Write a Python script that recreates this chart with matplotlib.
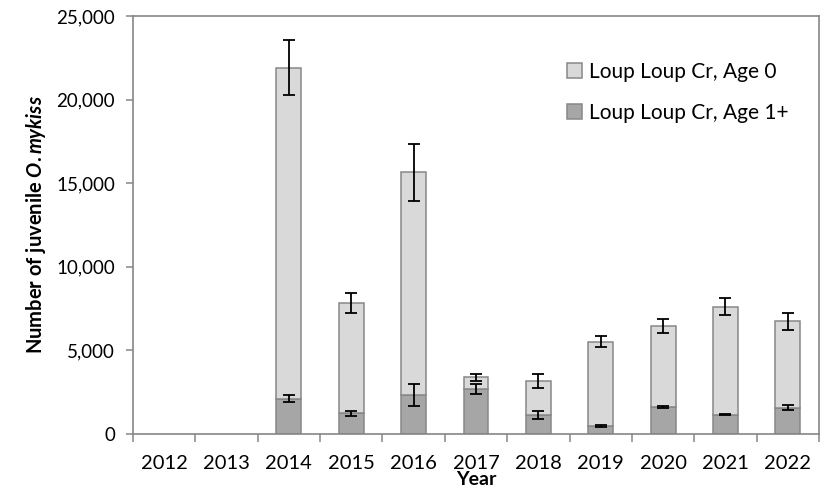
import numpy as np
import matplotlib
matplotlib.use("Agg")
import matplotlib.pyplot as plt
from matplotlib.ticker import FuncFormatter, FixedLocator

years = ["2012", "2013", "2014", "2015", "2016", "2017", "2018", "2019", "2020", "2021", "2022"]
age1 = [np.nan, np.nan, 2100, 1250, 2350, 2680, 1140, 480, 1620, 1160, 1580]
age1_err = [np.nan, np.nan, 210, 150, 670, 300, 220, 80, 50, 40, 130]
age0 = [np.nan, np.nan, 19800, 6600, 13300, 700, 2040, 5050, 4850, 6450, 5150]
total_err = [np.nan, np.nan, 1650, 600, 1700, 200, 400, 350, 400, 500, 480]

plt.rcParams['font.family'] = ['Lato', 'DejaVu Sans']
plt.rcParams['mathtext.fontset'] = 'custom'
plt.rcParams['mathtext.it'] = 'Lato:bold:italic'
plt.rcParams['mathtext.rm'] = 'Lato:bold'

fig = plt.figure(figsize=(8.22, 4.93), dpi=100)
ax = fig.add_axes([133/822, 1-434/493, (819-133)/822, (434-16)/493])

x = np.arange(len(years))
a1 = np.array(age1, dtype=float)
a0 = np.array(age0, dtype=float)
edge = '#878787'
w = 0.4
ax.bar(x, a1, width=w, color='#a6a6a6', edgecolor=edge, linewidth=1.1, label='Loup Loup Cr, Age 1+', zorder=2)
ax.bar(x, a0, width=w, bottom=a1, color='#d9d9d9', edgecolor=edge, linewidth=1.1, label='Loup Loup Cr, Age 0', zorder=2)

ax.errorbar(x, a1 + a0, yerr=np.array(total_err, dtype=float), fmt='none', ecolor='black',
            elinewidth=1.3, capsize=4, capthick=1.3, zorder=4)
ax.errorbar(x, a1, yerr=np.array(age1_err, dtype=float), fmt='none', ecolor='black',
            elinewidth=1.3, capsize=4, capthick=1.3, zorder=4)

ax.set_xlim(-0.5, len(years) - 0.5)
ax.set_ylim(0, 25000)
ax.set_yticks(np.arange(0, 25001, 5000))
ax.yaxis.set_major_formatter(FuncFormatter(lambda v, p: f"{int(v):,}"))
ax.set_xticks(x)
ax.set_xticklabels(years)
ax.xaxis.set_minor_locator(FixedLocator(np.arange(-0.5, len(years), 1.0)))
ax.tick_params(axis='x', which='major', length=0, pad=15, labelsize=14.5)
ax.tick_params(axis='x', which='minor', length=6, width=1.1, color='#868686', direction='out')
ax.tick_params(axis='y', which='major', length=5, width=1.1, color='#868686', direction='out',
               labelsize=13.5, pad=8)

for s in ax.spines.values():
    s.set_color('#868686')
    s.set_linewidth(1.2)

ax.set_ylabel(r"Number of juvenile $\it{O.mykiss}$", fontsize=14.5, fontweight='bold', labelpad=6)
ax.set_xlabel("Year", fontsize=14, fontweight='bold', labelpad=-0.5)

handles, labels = ax.get_legend_handles_labels()
ax.legend(handles[::-1], labels[::-1], loc='upper left', bbox_to_anchor=(0.633, 0.89), frameon=False,
          borderaxespad=0, borderpad=0,
          fontsize=15, handlelength=0.7, handleheight=0.7, handletextpad=0.35, labelspacing=1.0)

fig.savefig("out.png", dpi=100)
